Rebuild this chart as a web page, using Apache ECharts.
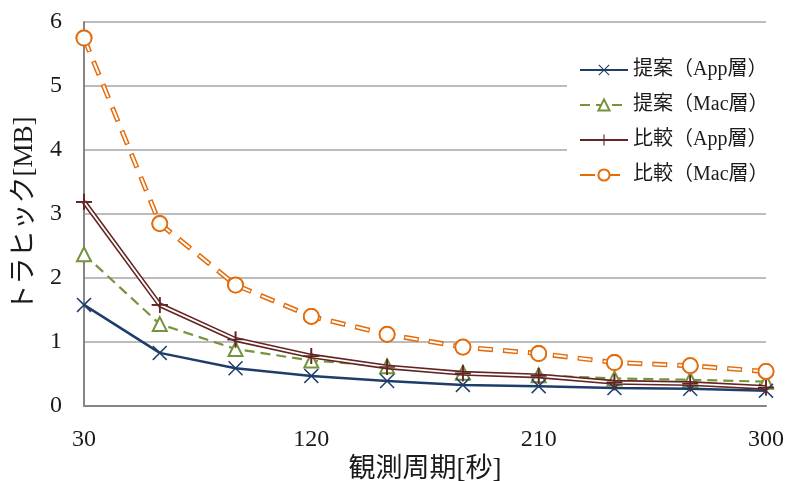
<!DOCTYPE html>
<html><head><meta charset="utf-8">
<script src="https://cdn.jsdelivr.net/npm/echarts@6/dist/echarts.min.js"></script>
<style>html,body{margin:0;padding:0;background:#fff}#c{width:790px;height:481px}</style>
</head><body><div id="c"></div>
<script>
const categories = ['30','60','90','120','150','180','210','240','270','300'];
const propApp = [1.58, 0.83, 0.59, 0.47, 0.39, 0.33, 0.31, 0.28, 0.27, 0.24];
const propMac = [2.37, 1.28, 0.89, 0.71, 0.62, 0.52, 0.48, 0.43, 0.41, 0.38];
const compApp = [3.19, 1.58, 1.04, 0.78, 0.61, 0.51, 0.47, 0.37, 0.35, 0.29];
const compMac = [5.75, 2.85, 1.89, 1.40, 1.12, 0.92, 0.82, 0.68, 0.63, 0.54];
const names = ['提案（App層）','提案（Mac層）','比較（App層）','比較（Mac層）'];
const yTicks = [0, 6, 1];

const FONT = "'Liberation Serif', 'Noto Sans CJK JP', serif";
const C_BLUE = '#1F3D6B', C_GREEN = '#77933C', C_BROWN = '#632523', C_ORANGE = '#E46C0A';
const SYM_X = 'path://M0,7 L7,0 L50,43 L93,0 L100,7 L57,50 L100,93 L93,100 L50,57 L7,100 L0,93 L43,50 Z';
const SYM_PLUS = 'path://M45,0 H55 V45 H100 V55 H55 V100 H45 V55 H0 V45 H45 Z';

const chart = echarts.init(document.getElementById('c'));
chart.setOption({
  animation: false,
  backgroundColor: '#fff',
  textStyle: { fontFamily: FONT },
  grid: { left: 84, right: 24, top: 22, bottom: 75, containLabel: false, outerBoundsMode: 'none' },
  legend: {
    data: names.map(n => ({ name: n })),
    orient: 'vertical', left: 567, top: 54,
    itemWidth: 48, itemHeight: 14, itemGap: 15,
    padding: [6, 24, 6, 12],
    backgroundColor: '#fff',
    textStyle: { fontFamily: FONT, fontSize: 20, color: '#1a1a1a' }
  },
  xAxis: {
    type: 'category', data: categories, boundaryGap: false,
    name: '観測周期[秒]', nameLocation: 'middle', nameGap: 45,
    nameTextStyle: { fontFamily: FONT, fontSize: 27, color: '#1a1a1a' },
    axisLine: { lineStyle: { color: '#868686', width: 2 } },
    axisTick: { show: false },
    axisLabel: { interval: 2, margin: 22, fontFamily: FONT, fontSize: 24, color: '#1a1a1a' },
    splitLine: { show: false }
  },
  yAxis: {
    type: 'value', min: yTicks[0], max: yTicks[1], interval: yTicks[2],
    name: 'トラヒック[MB]', nameLocation: 'middle', nameGap: 46,
    nameTextStyle: { fontFamily: FONT, fontSize: 27, color: '#1a1a1a' },
    axisLine: { show: true, lineStyle: { color: '#868686', width: 2 } },
    axisTick: { show: false },
    axisLabel: { margin: 22, fontFamily: FONT, fontSize: 24, color: '#1a1a1a' },
    splitLine: { lineStyle: { color: '#A6A6A6', width: 1.5 } }
  },
  series: [
    { name: names[0], type: 'line', data: propApp, z: 5,
      symbol: SYM_X, symbolSize: 15, showAllSymbol: true,
      itemStyle: { color: C_BLUE },
      lineStyle: { color: C_BLUE, width: 2.5 } },
    { name: names[1], type: 'line', data: propMac, z: 4,
      symbol: 'emptyTriangle', symbolSize: 14, showAllSymbol: true,
      itemStyle: { color: C_GREEN, borderColor: C_GREEN, borderWidth: 1.8 },
      lineStyle: { color: C_GREEN, width: 2.2, type: [10, 6] } },
    { name: names[2], type: 'line', data: compApp, z: 6,
      symbol: SYM_PLUS, symbolSize: 16, showAllSymbol: true,
      itemStyle: { color: C_BROWN },
      lineStyle: { color: C_BROWN, width: 5 } },
    { name: 'w2', type: 'line', data: compApp, z: 7, symbol: 'none', silent: true,
      lineStyle: { color: '#fff', width: 1.8 } },
    { name: 'm2', type: 'scatter', data: compApp, z: 8, symbol: SYM_PLUS, symbolSize: 16,
      itemStyle: { color: C_BROWN, opacity: 1 } },
    { name: names[3], type: 'line', data: compMac, z: 9,
      symbol: 'emptyCircle', symbolSize: 15, showAllSymbol: true,
      itemStyle: { color: C_ORANGE, borderColor: C_ORANGE, borderWidth: 1.8 },
      lineStyle: { color: C_ORANGE, width: 5, type: [15, 10] } },
    { name: 'w3', type: 'line', data: compMac, z: 10, symbol: 'none', silent: true,
      lineStyle: { color: '#fff', width: 2, type: [12.6, 12.4], dashOffset: -1.2 } },
    { name: 'm3', type: 'scatter', data: compMac, z: 11, symbol: 'circle', symbolSize: 15,
      itemStyle: { color: '#fff', borderColor: C_ORANGE, borderWidth: 1.8, opacity: 1 } }
  ]
});
</script></body></html>
